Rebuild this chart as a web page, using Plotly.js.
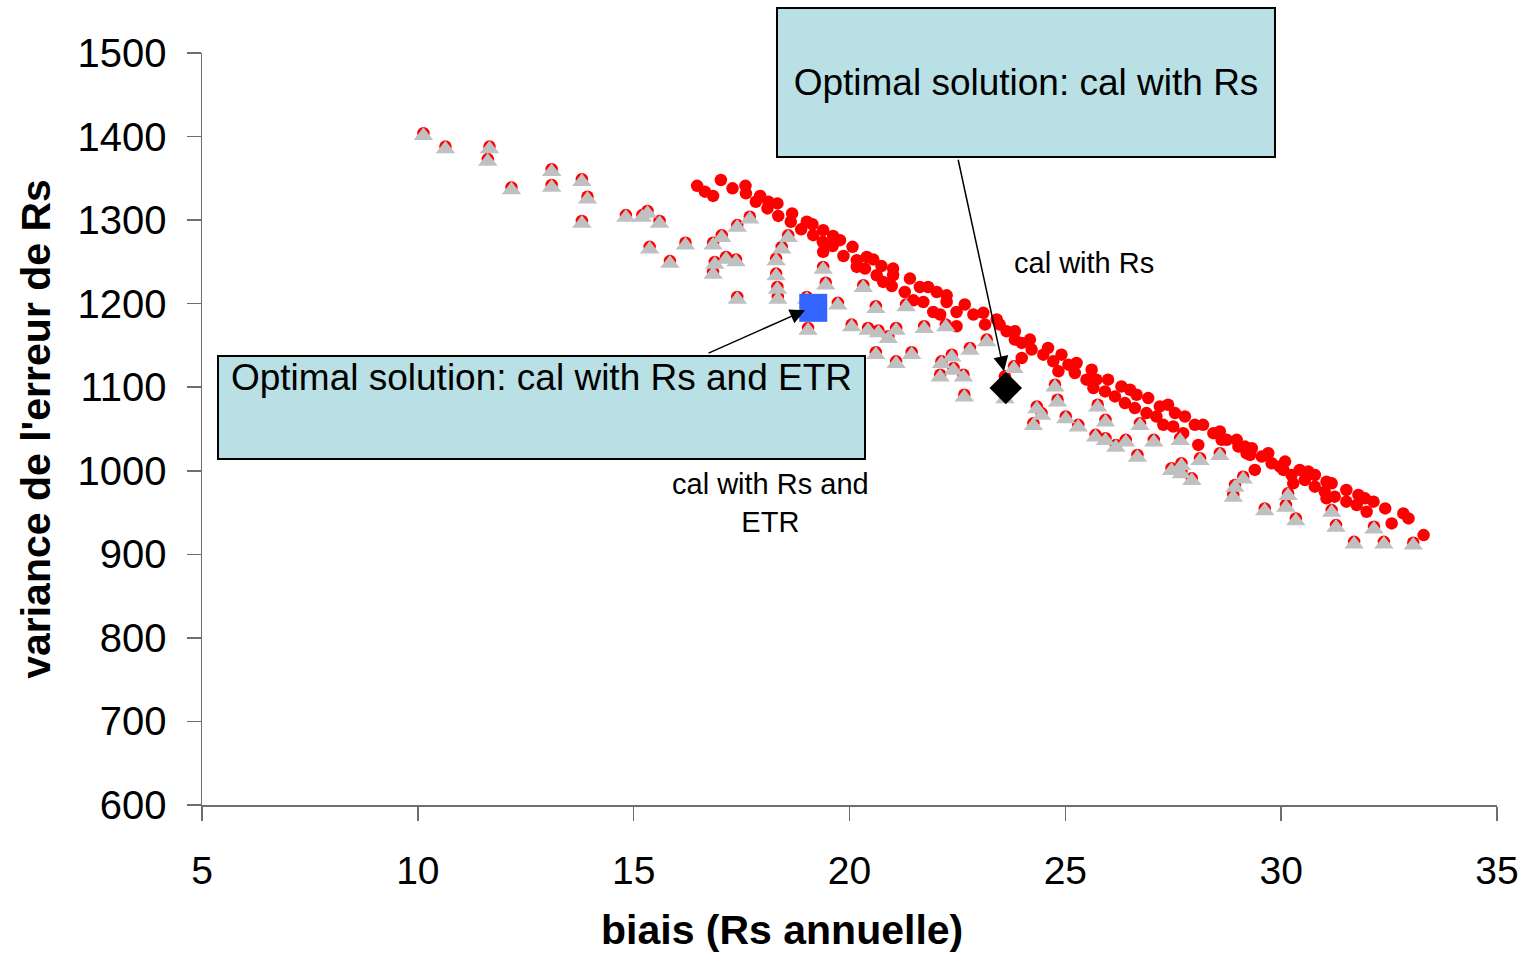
<!DOCTYPE html>
<html>
<head>
<meta charset="utf-8">
<script src="https://cdn.plot.ly/plotly-3.0.1.min.js"></script>
<style>
  html, body { margin: 0; padding: 0; background: #ffffff; }
  #chart { width: 1528px; height: 954px; }
</style>
</head>
<body>
<div id="chart"></div>
<script>
// ---- data ----
// upper curve: solutions "cal with Rs" (red circles only)
const calRsX = [
  16.47, 17.02, 16.65, 16.84, 17.29, 17.59, 17.60, 17.93, 17.83, 18.12,
  18.10, 18.33, 18.35, 18.67, 18.64, 18.88, 19.01, 19.14, 19.16, 19.39,
  19.38, 19.62, 19.78, 19.61, 19.39, 20.07, 19.86, 20.17, 20.40, 20.55,
  20.17, 20.36, 20.63, 20.74, 21.01, 21.01, 20.78, 20.98, 21.40, 21.63,
  21.82, 22.02, 22.25, 21.28, 21.48, 21.71, 21.94, 22.10, 22.25, 22.48,
  22.67, 22.48, 22.87, 23.10, 23.14, 23.41, 23.48, 23.64, 23.83, 23.83,
  23.99, 24.18, 24.22, 23.99, 24.49, 24.60, 24.72, 24.91, 24.84, 25.07,
  25.26, 25.22, 25.49, 25.61, 25.72, 25.65, 25.92, 25.99, 26.15, 26.30,
  26.50, 26.38, 26.65, 26.61, 26.92, 26.88, 27.11, 27.19, 27.38, 27.27,
  27.54, 27.50, 27.77, 27.73, 28.00, 28.19, 28.08, 28.43, 28.62, 28.97,
  29.16, 29.20, 28.58, 28.74, 29.01, 29.32, 29.28, 29.55, 29.70, 29.78,
  29.97, 30.09, 30.05, 29.39, 30.24, 30.28, 30.43, 30.63, 30.78, 30.55,
  30.78, 31.05, 31.01, 31.17, 31.05, 31.24, 31.51, 31.51, 31.79, 31.75,
  31.94, 31.98, 32.14, 32.41, 32.56, 32.83, 32.95, 33.30, 23.60
];
const calRsY = [
  1341, 1348, 1334, 1329, 1338, 1341, 1332, 1329, 1322, 1322,
  1314, 1320, 1305, 1308, 1298, 1289, 1298, 1295, 1282, 1288,
  1274, 1281, 1276, 1269, 1262, 1268, 1257, 1252, 1256, 1253,
  1244, 1242, 1234, 1245, 1242, 1234, 1226, 1221, 1230, 1220,
  1220, 1214, 1210, 1214, 1204, 1202, 1190, 1187, 1202, 1190,
  1199, 1173, 1187, 1189, 1175, 1181, 1175, 1167, 1167, 1157,
  1153, 1157, 1145, 1135, 1139, 1147, 1131, 1139, 1119, 1127,
  1129, 1117, 1109, 1121, 1109, 1099, 1095, 1109, 1089, 1101,
  1097, 1081, 1091, 1075, 1087, 1069, 1065, 1077, 1079, 1055,
  1069, 1053, 1065, 1045, 1055, 1055, 1031, 1045, 1037, 1037,
  1029, 1021, 1047, 1037, 1029, 1027, 1019, 1017, 1021, 1009,
  1005, 1011, 1001, 1001, 995, 985, 1001, 999, 995, 989,
  981, 987, 975, 985, 967, 969, 977, 963, 971, 959,
  967, 951, 963, 955, 937, 949, 943, 923, 1113
];
// solutions "cal with Rs and ETR" (grey triangles)
const calRsEtrX = [
  10.13, 10.64, 11.66, 11.62, 12.17, 13.10, 13.10, 13.80, 13.93, 13.80,
  14.82, 15.20, 15.32, 15.60, 15.37, 16.20, 15.84, 16.84, 17.04, 17.40,
  17.69, 16.88, 16.84, 17.14, 17.37, 17.40, 18.58, 18.43, 18.30, 18.30,
  18.33, 18.34, 19.39, 19.45, 19.01, 19.04, 19.73, 20.05, 20.43, 20.67,
  20.90, 21.08, 20.32, 20.61, 21.31, 21.73, 22.23, 23.18, 22.79, 20.61,
  21.44, 21.08, 22.37, 22.13, 22.41, 22.10, 22.64, 22.66, 23.81, 23.60,
  24.76, 24.34, 24.45, 24.26, 24.82, 25.01, 25.30, 25.75, 25.93, 25.70,
  25.93, 26.17, 26.40, 26.67, 26.73, 27.05, 27.66, 27.46, 27.69, 27.69,
  27.93, 28.12, 28.58, 28.93, 29.12, 28.89, 29.62, 30.11, 30.16, 30.34,
  31.17, 31.27, 32.15, 31.69, 32.38, 33.06
];
const calRsEtrY = [
  1404, 1388, 1388, 1373, 1339, 1361, 1342, 1349, 1328, 1299,
  1306, 1306, 1311, 1299, 1268, 1273, 1251, 1273, 1282, 1294,
  1304, 1250, 1238, 1256, 1253, 1208, 1282, 1268, 1254, 1236,
  1220, 1208, 1244, 1225, 1208, 1171, 1201, 1175, 1171, 1168,
  1161, 1171, 1222, 1197, 1199, 1173, 1175, 1157, 1147, 1142,
  1142, 1131, 1139, 1131, 1123, 1115, 1115, 1091, 1125, 1089,
  1103, 1077, 1069, 1057, 1085, 1065, 1055, 1079, 1061, 1043,
  1039, 1031, 1037, 1019, 1057, 1037, 1039, 1003, 1009, 999,
  991, 1015, 1021, 983, 993, 971, 955, 959, 973, 943,
  953, 935, 933, 915, 915, 914
];
// optimal solutions
const optimalRsX = [23.62];
const optimalRsY = [1099];
const optimalRsEtrX = [19.16];
const optimalRsEtrY = [1195];

// axes
const xTickVals = [5, 10, 15, 20, 25, 30, 35];
const yTickVals = [600, 700, 800, 900, 1000, 1100, 1200, 1300, 1400, 1500];
const xRange = [5, 35];
const yRange = [600, 1500];

// texts
const xTitle = 'biais (Rs annuelle)';
const yTitle = "variance de l'erreur de Rs";
const boxRsText = 'Optimal solution: cal with Rs';
const boxRsEtrText = 'Optimal solution: cal with Rs and ETR';
const labelRs = 'cal with Rs';
const labelRsEtr = 'cal with Rs and<br>ETR';

// ---- figure ----
const FONT = 'Liberation Sans, Arial, sans-serif';
const axisGrey = '#6e6e6e';
// triangles are drawn on an overlay axis offset by a few pixels so that the
// triangle's bounding box is centred on the point (as in the original chart)
const triShiftPx = 2.5;
const plotH = 752;
const triShift = triShiftPx * (yRange[1] - yRange[0]) / plotH;

const traces = [
  {
    type: 'scatter', mode: 'markers', name: 'cal with Rs',
    x: calRsX.concat(calRsEtrX), y: calRsY.concat(calRsEtrY),
    marker: { symbol: 'circle', size: 12.5, color: '#ff0000', line: { width: 0 } },
    hoverinfo: 'x+y'
  },
  {
    type: 'scatter', mode: 'markers', name: 'cal with Rs and ETR',
    x: calRsEtrX, y: calRsEtrY, yaxis: 'y2',
    marker: { symbol: 'triangle-up', size: 17, color: '#c0c0c0', line: { width: 0 } },
    hoverinfo: 'x+y'
  },
  {
    type: 'scatter', mode: 'markers', name: 'Optimal solution: cal with Rs',
    x: optimalRsX, y: optimalRsY, yaxis: 'y3',
    marker: { symbol: 'diamond', size: 25, color: '#000000', line: { width: 0 } }
  },
  {
    type: 'scatter', mode: 'markers', name: 'Optimal solution: cal with Rs and ETR',
    x: optimalRsEtrX, y: optimalRsEtrY, yaxis: 'y3',
    marker: { symbol: 'square', size: 28, color: '#3366ff', line: { width: 0 } }
  }
];

const boxFill = 'rgb(185,224,228)';
const layout = {
  width: 1528, height: 954,
  margin: { l: 202, r: 31, t: 53, b: 149, pad: 0 },
  paper_bgcolor: '#ffffff', plot_bgcolor: '#ffffff',
  showlegend: false,
  font: { family: FONT, color: '#000000' },
  xaxis: {
    range: xRange, tickvals: xTickVals, ticktext: xTickVals.map(String),
    showgrid: false, zeroline: false,
    showline: true, linecolor: axisGrey, linewidth: 1.5,
    ticks: 'outside', ticklen: 14, tickwidth: 1.5, tickcolor: axisGrey,
    tickfont: { family: FONT, size: 39, color: '#000000' },
    ticklabelstandoff: 17
  },
  yaxis: {
    range: yRange, tickvals: yTickVals, ticktext: yTickVals.map(String),
    showgrid: false, zeroline: false,
    showline: true, linecolor: axisGrey, linewidth: 1.5,
    ticks: 'outside', ticklen: 14, tickwidth: 1.5, tickcolor: axisGrey,
    tickfont: { family: FONT, size: 40, color: '#000000' },
    ticklabelstandoff: 12,
    title: { text: yTitle, font: { family: FONT, size: 41, weight: 'bold', color: '#000000' }, standoff: 14 }
  },
  yaxis2: {
    overlaying: 'y', visible: false,
    range: [yRange[0] + triShift, yRange[1] + triShift]
  },
  yaxis3: {
    overlaying: 'y', visible: false, range: yRange
  },
  annotations: [
    {
      xref: 'paper', yref: 'paper', x: 0.4475, y: -0.166,
      xanchor: 'center', yanchor: 'middle', showarrow: false,
      text: xTitle, font: { family: FONT, size: 41, weight: 'bold', color: '#000000' }
    },
    {
      xref: 'paper', yref: 'paper', x: 0.6363, y: 0.9608,
      xanchor: 'center', yanchor: 'middle', showarrow: false,
      width: 496, height: 147, align: 'center', valign: 'middle',
      bgcolor: boxFill, bordercolor: '#000000', borderwidth: 2, borderpad: 0,
      text: boxRsText, font: { family: FONT, size: 37, color: '#000000' }
    },
    {
      xref: 'paper', yref: 'paper', x: 0.2622, y: 0.5283,
      xanchor: 'center', yanchor: 'middle', showarrow: false,
      width: 645, height: 101, align: 'center', valign: 'top',
      bgcolor: boxFill, bordercolor: '#000000', borderwidth: 2, borderpad: 0,
      text: boxRsEtrText, font: { family: FONT, size: 37, color: '#000000' }
    },
    {
      xref: 'x', yref: 'y', x: 23.58, y: 1119,
      axref: 'x', ayref: 'y', ax: 22.51, ay: 1374,
      text: '', showarrow: true, arrowhead: 2, arrowsize: 2, arrowwidth: 1.5, arrowcolor: '#000000'
    },
    {
      xref: 'x', yref: 'y', x: 18.97, y: 1192,
      axref: 'x', ayref: 'y', ax: 16.70, ay: 1140,
      text: '', showarrow: true, arrowhead: 2, arrowsize: 2, arrowwidth: 1.5, arrowcolor: '#000000'
    },
    {
      xref: 'x', yref: 'y', x: 25.43, y: 1249,
      xanchor: 'center', yanchor: 'middle', showarrow: false,
      text: labelRs, font: { family: FONT, size: 29, color: '#000000' }
    },
    {
      xref: 'x', yref: 'y', x: 18.16, y: 961,
      xanchor: 'center', yanchor: 'middle', showarrow: false, align: 'center',
      text: labelRsEtr, font: { family: FONT, size: 29, color: '#000000' }
    }
  ]
};

Plotly.newPlot('chart', traces, layout, { staticPlot: true, displayModeBar: false });
</script>
</body>
</html>
